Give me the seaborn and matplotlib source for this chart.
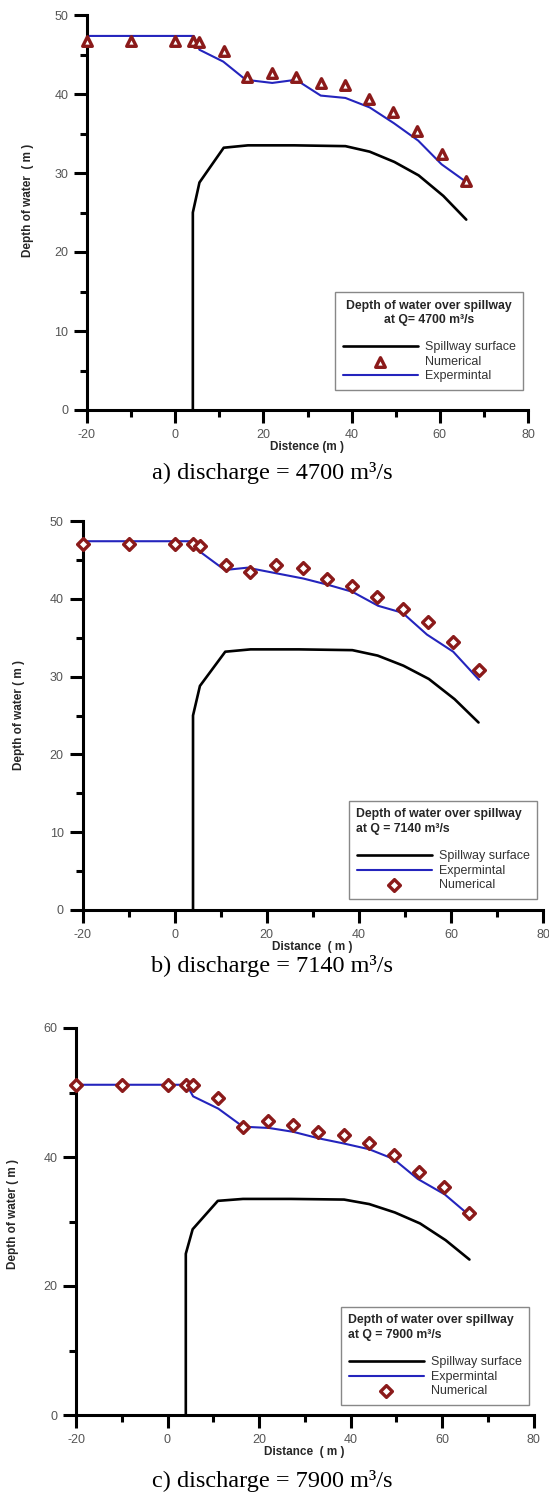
import matplotlib
matplotlib.use("Agg")
import matplotlib.pyplot as plt
import seaborn as sns

sns.set_style("ticks")
plt.rcParams['font.family'] = ['Liberation Sans', 'DejaVu Sans']
plt.rcParams['axes.unicode_minus'] = False

W, H = 549, 1504

# spillway crest profile (same in all three runs)
surf_x = [4, 4, 5.5, 11, 16.5, 27, 38.6, 44.1, 49.7, 55.2, 60.8, 66]
surf_y = [0, 25, 28.8, 33.2, 33.5, 33.5, 33.4, 32.7, 31.4, 29.7, 27.1, 24.1]

# a) Q = 4700
exp_a_x = [-20, 4.2, 5.5, 10.9, 16.0, 22.0, 27.4, 33.0, 38.6, 44.1, 49.6, 55.1, 60.4, 65.9]
exp_a_y = [47.35, 47.35, 45.6, 44.1, 41.8, 41.4, 41.8, 39.8, 39.5, 38.3, 36.3, 34.1, 31.1, 28.9]
num_a_x = [-20, -10, 0, 4, 5.5, 11, 16.3, 22, 27.5, 33.1, 38.4, 44, 49.5, 54.8, 60.4, 66]
num_a_y = [46.7, 46.7, 46.7, 46.7, 46.6, 45.5, 42.1, 42.6, 42.1, 41.4, 41.1, 39.4, 37.7, 35.3, 32.4, 29.0]

# b) Q = 7140
exp_b_x = [-20, 4.1, 5.4, 10.9, 15.8, 21.9, 28.0, 33.3, 38.6, 44.2, 49.5, 54.8, 60.5, 66.1]
exp_b_y = [47.4, 47.4, 46.1, 43.7, 44.0, 43.3, 42.6, 41.8, 40.9, 39.1, 38.2, 35.4, 33.2, 29.6]
num_b_x = [-20, -10, 0, 4.1, 5.5, 11.1, 16.4, 22, 27.8, 33, 38.6, 44, 49.5, 55.1, 60.5, 66.1]
num_b_y = [47.0, 47.0, 47.0, 47.0, 46.8, 44.4, 43.4, 44.4, 43.9, 42.6, 41.6, 40.2, 38.7, 37.0, 34.4, 30.9]

# c) Q = 7900
exp_c_x = [-20, 4.2, 5.6, 11.1, 16.5, 22.2, 27.5, 33.0, 38.5, 44.1, 49.4, 54.7, 60.6, 65.9]
exp_c_y = [51.2, 51.2, 49.4, 47.5, 44.7, 44.5, 43.9, 42.9, 42.1, 41.2, 39.7, 36.6, 34.2, 31.0]
num_c_x = [-20, -10, 0, 4, 5.5, 11.1, 16.6, 22, 27.4, 32.9, 38.5, 44.1, 49.4, 54.9, 60.4, 65.9]
num_c_y = [51.2, 51.2, 51.2, 51.2, 51.1, 49.1, 44.7, 45.6, 44.9, 43.9, 43.4, 42.2, 40.3, 37.7, 35.3, 31.3]

BLUE = '#2424bd'
RED = '#8b1a1a'


def px_axes(fig, L, R, T, B):
    return fig.add_axes([L / W, 1 - B / H, (R - L) / W, (B - T) / H])


def style_axes(ax, ymax, ymaj, ymin):
    ax.set_xlim(-20, 80)
    ax.set_ylim(0, ymax)
    ax.set_xticks(range(-20, 81, 20))
    ax.set_xticks(range(-10, 80, 20), minor=True)
    ax.set_yticks(range(0, ymax + 1, ymaj))
    ax.set_yticks(range(ymin, ymax, ymaj), minor=True)
    sns.despine(ax=ax)
    for s in ['left', 'bottom']:
        ax.spines[s].set_linewidth(2.2)
        ax.spines[s].set_color('black')
    ax.tick_params(which='major', length=9.5, width=2.2, color='black',
                   labelsize=9, labelcolor='#555555', pad=4)
    ax.tick_params(which='minor', length=5, width=2.2, color='black')


def draw(ax, ex, ey, nx, ny, marker, size):
    sns.lineplot(x=surf_x, y=surf_y, sort=False, estimator=None, color='black',
                 linewidth=1.9, ax=ax, label='Spillway surface', clip_on=False)
    sns.lineplot(x=ex, y=ey, sort=False, estimator=None, color=BLUE,
                 linewidth=1.5, ax=ax, label='Expermintal', clip_on=False)
    sns.scatterplot(x=nx, y=ny, marker=marker, s=size, facecolor='white',
                    edgecolor=RED, linewidth=2.4, ax=ax, label='Numerical',
                    zorder=5, clip_on=False)


def legend(ax, order, title, x, y, align):
    h, l = ax.get_legend_handles_labels()
    d = dict(zip(l, h))
    leg = ax.legend([d[k] for k in order], order, title=title,
                    loc='upper left', bbox_to_anchor=(x / W, 1 - y / H),
                    bbox_transform=ax.figure.transFigure, borderaxespad=0,
                    fontsize=9, title_fontsize=8.8, frameon=True, fancybox=False,
                    framealpha=1, edgecolor='#888888', handlelength=6.0,
                    handletextpad=0.6, labelspacing=0.2, borderpad=0.6,
                    alignment=align)
    t = leg.get_title()
    t.set_fontweight('bold')
    t.set_linespacing(1.3)
    t.set_multialignment(align)
    leg._legend_box.sep = 11
    leg.get_frame().set_linewidth(1.0)
    for tx in leg.get_texts():
        tx.set_color('#333333')


fig = plt.figure(figsize=(W / 100, H / 100), dpi=100)

# panel a
ax1 = px_axes(fig, 87, 528, 15, 410)
draw(ax1, exp_a_x, exp_a_y, num_a_x, num_a_y, '^', 48)
style_axes(ax1, 50, 10, 5)
ax1.set_xlabel('Distence (m )', fontsize=8.5, fontweight='bold', labelpad=0)
ax1.set_ylabel('Depth of water  ( m )', fontsize=8.5, fontweight='bold')
ax1.yaxis.set_label_coords(-0.12, 0.53)
legend(ax1, ['Spillway surface', 'Numerical', 'Expermintal'],
       'Depth of water over spillway\nat Q= 4700 m³/s', 335, 292, 'center')

# panel b
ax2 = px_axes(fig, 82.5, 543, 521, 910)
draw(ax2, exp_b_x, exp_b_y, num_b_x, num_b_y, 'D', 36)
style_axes(ax2, 50, 10, 5)
ax2.set_xlabel('Distance  ( m )', fontsize=8.5, fontweight='bold', labelpad=0)
ax2.set_ylabel('Depth of water ( m )', fontsize=8.5, fontweight='bold')
ax2.yaxis.set_label_coords(-0.125, 0.5)
legend(ax2, ['Spillway surface', 'Expermintal', 'Numerical'],
       'Depth of water over spillway\nat Q = 7140 m³/s', 349, 801, 'left')

# panel c
ax3 = px_axes(fig, 76, 533.5, 1028, 1415)
draw(ax3, exp_c_x, exp_c_y, num_c_x, num_c_y, 'D', 36)
style_axes(ax3, 60, 20, 10)
ax3.set_xlabel('Distance  ( m )', fontsize=8.5, fontweight='bold', labelpad=0)
ax3.set_ylabel('Depth of water ( m )', fontsize=8.5, fontweight='bold')
ax3.yaxis.set_label_coords(-0.125, 0.52)
legend(ax3, ['Spillway surface', 'Expermintal', 'Numerical'],
       'Depth of water over spillway\nat Q = 7900 m³/s', 341, 1307, 'left')

captions = ['a) discharge = 4700 m³/s', 'b) discharge = 7140 m³/s',
            'c) discharge = 7900 m³/s']
cap_y = [473, 966, 1481]
for c, yy in zip(captions, cap_y):
    fig.text(272 / W, 1 - yy / H, c, ha='center', va='center',
             family='Liberation Serif', fontsize=17.5, color='black')

fig.savefig('out.png', dpi=100)
